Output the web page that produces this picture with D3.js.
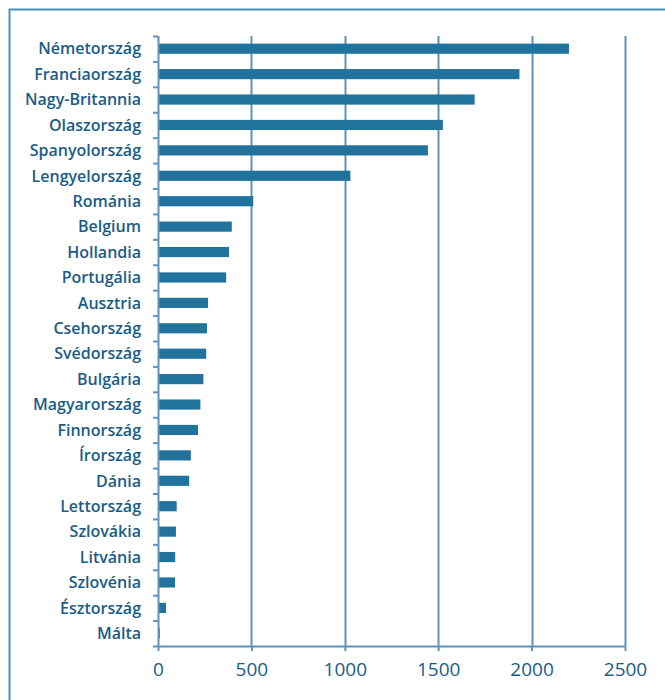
<!DOCTYPE html>
<html>
<head>
<meta charset="utf-8">
<script src="https://cdn.jsdelivr.net/npm/d3@7"></script>
<style>
  body { margin: 0; background: #fff; }
  svg { display: block; }
</style>
</head>
<body>
<svg></svg>
<script>
var countries = ["Németország", "Franciaország", "Nagy-Britannia", "Olaszország", "Spanyolország",
    "Lengyelország", "Románia", "Belgium", "Hollandia", "Portugália", "Ausztria", "Csehország",
    "Svédország", "Bulgária", "Magyarország", "Finnország", "Írország", "Dánia", "Lettország",
    "Szlovákia", "Litvánia", "Szlovénia", "Észtország", "Málta"];

var values = [2200, 1935, 1695, 1525, 1445, 1030, 510, 395, 380, 365, 268, 262, 258, 243,
    227, 214, 176, 167, 100, 96, 92, 91, 43, 10];

var xTicks = [0, 500, 1000, 1500, 2000, 2500];

var data = countries.map((c, i) => ({ name: c, value: values[i] }));

const svgWidth = 665,
    svgHeight = 700;

var margin = { top: 36, right: 40, bottom: 54, left: 158 };
var width = svgWidth - margin.left - margin.right;
var height = svgHeight - margin.top - margin.bottom;

var axisColor = "#5e93bd";
var barColor = "#21729c";
var textColor = "#1a5c88";

var svg = d3.select("svg")
    .attr("width", svgWidth)
    .attr("height", svgHeight);

// frame (only top and left edges show)
svg.append("rect")
    .attr("x", 9.5)
    .attr("y", 9.5)
    .attr("width", 800)
    .attr("height", 800)
    .attr("fill", "none")
    .attr("stroke", "#4d8dbb")
    .attr("stroke-width", 2);

var g = svg.append("g")
    .attr("transform", "translate(" + margin.left + "," + margin.top + ")");

var x = d3.scaleLinear()
    .domain([0, 2500])
    .range([0, width]);

var y = d3.scaleBand()
    .domain(countries)
    .range([0, height])
    .paddingInner(0.6)
    .paddingOuter(0.3);

var yEdges = d3.scaleLinear()
    .domain([0, countries.length])
    .range([0, height]);

// vertical grid lines
g.append("g")
    .selectAll("line")
    .data(xTicks.slice(1))
    .join("line")
    .attr("x1", d => Math.round(x(d)) + 0.5)
    .attr("x2", d => Math.round(x(d)) + 0.5)
    .attr("y1", 0)
    .attr("y2", height)
    .attr("stroke", axisColor)
    .attr("stroke-width", 2);

// bars
g.append("g")
    .selectAll("rect")
    .data(data)
    .join("rect")
    .attr("x", 0)
    .attr("y", d => y(d.name))
    .attr("width", d => x(d.value))
    .attr("height", y.bandwidth())
    .attr("fill", barColor);

// y axis: line + ticks at band edges
var yAxis = d3.axisLeft(yEdges)
    .tickValues(d3.range(countries.length + 1))
    .tickSize(5)
    .tickFormat("");

g.append("g")
    .call(yAxis)
    .call(a => a.selectAll(".domain").attr("d", "M0.5,0V" + height))
    .call(a => a.selectAll("line,path").attr("stroke", axisColor).attr("stroke-width", 2));

// category labels
g.append("g")
    .selectAll("text")
    .data(countries)
    .join("text")
    .attr("x", -17)
    .attr("y", d => y(d) + y.bandwidth() / 2)
    .attr("dy", "0.36em")
    .attr("text-anchor", "end")
    .attr("font-family", "Open Sans")
    .attr("font-size", 16)
    .attr("font-weight", 600)
    .attr("fill", textColor)
    .text(d => d);

// x axis
var xAxis = d3.axisBottom(x)
    .tickValues(xTicks)
    .tickSize(5)
    .tickPadding(12)
    .tickFormat(d => d);

g.append("g")
    .attr("transform", "translate(0," + height + ")")
    .call(xAxis)
    .call(a => a.selectAll(".domain").attr("d", "M0," + 0.5 + "H" + (width + 1)))
    .call(a => a.selectAll("line,path").attr("stroke", axisColor).attr("stroke-width", 2))
    .call(a => a.selectAll("text")
        .attr("font-family", "Open Sans")
        .attr("font-size", 19)
        .attr("fill", textColor));
</script>
</body>
</html>
